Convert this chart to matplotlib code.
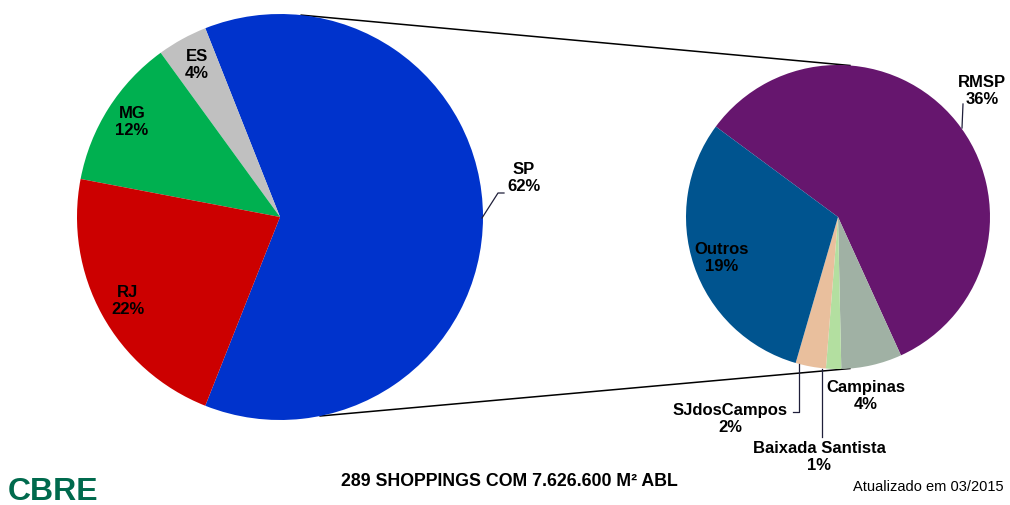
import numpy as np
import matplotlib.pyplot as plt

plt.rcParams['font.family'] = ['Liberation Sans', 'DejaVu Sans']

# main pie (states)
states = ['SP', 'ES', 'MG', 'RJ']
state_share = [62, 4, 12, 22]
state_colors = ['#0033cc', '#c0c0c0', '#00b050', '#cc0000']

# secondary pie (split of SP)
sp_regions = ['RMSP', 'Campinas', 'Baixada Santista', 'SJdosCampos', 'Outros']
sp_share = [36, 4, 1, 2, 19]
sp_colors = ['#66166e', '#a0b1a4', '#b3dfa0', '#e9bf9d', '#00548f']

title = '289 SHOPPINGS COM 7.626.600 M² ABL'
updated = 'Atualizado em 03/2015'

H = 505
fig = plt.figure(figsize=(10.1, 5.05), dpi=100)
ax = fig.add_axes([0, 0, 1, 1])

c1, r1 = (280, H - 217), 203
c2, r2 = (838, H - 217), 152

sp_angle = state_share[0] / sum(state_share) * 360
ax.pie(state_share, colors=state_colors, center=c1, radius=r1,
       startangle=-sp_angle / 2, counterclock=True,
       wedgeprops=dict(linewidth=0), frame=True)
ax.pie(sp_share, colors=sp_colors, center=c2, radius=r2,
       startangle=143.5, counterclock=False,
       wedgeprops=dict(linewidth=0), frame=True)
ax.set_xlim(0, 1010)
ax.set_ylim(0, H)
ax.set_aspect('equal')
ax.axis('off')

# connector lines between the two pies
def pt(c, r, a):
    return c[0] + r * np.cos(np.radians(a)), c[1] + r * np.sin(np.radians(a))

for a1, a2 in [(84, 85.5), (-78.6, -85.5)]:
    p1, p2 = pt(c1, r1, a1), pt(c2, r2, a2)
    ax.plot([p1[0], p2[0]], [p1[1], p2[1]], color='black', lw=1.1, zorder=0)

lab = dict(fontsize=12, fontweight='bold', ha='center', va='center',
           linespacing=1.2)

def label(name, pct, x, y, **kw):
    ax.text(x, H - y, f'{name}\n{pct}%', **{**lab, **kw})

# labels on main pie
label(states[0], state_share[0], 524, 178)
label(states[1], state_share[1], 197, 65)
label(states[2], state_share[2], 132, 122)
label(states[3], state_share[3], 128, 301)

# labels on secondary pie
label(sp_regions[0], sp_share[0], 982, 91)
label(sp_regions[1], sp_share[1], 866, 396)
label(sp_regions[2], sp_share[2], 819, 457)
label(sp_regions[3], sp_share[3], 730, 419)
label(sp_regions[4], sp_share[4], 722, 258)

# leader lines
lc = dict(color='#1f1f3a', lw=0.9)
ax.plot([482, 498, 504], [H - 218, H - 193, H - 193], **lc)
ax.plot([962, 963], [H - 128, H - 104], **lc)
ax.plot([799, 799, 793], [H - 364, H - 412, H - 412], **lc)
ax.plot([822, 822], [H - 369, H - 437], **lc)

ax.text(509, H - 482, title, fontsize=12.8, fontweight='bold',
        ha='center', va='center')
ax.text(928, H - 487, updated, fontsize=10.5, ha='center', va='center')
ax.text(8, H - 492, 'CBRE', fontsize=23, fontweight='bold',
        color='#006a4d', ha='left', va='center')

fig.savefig('out.png', dpi=100)
